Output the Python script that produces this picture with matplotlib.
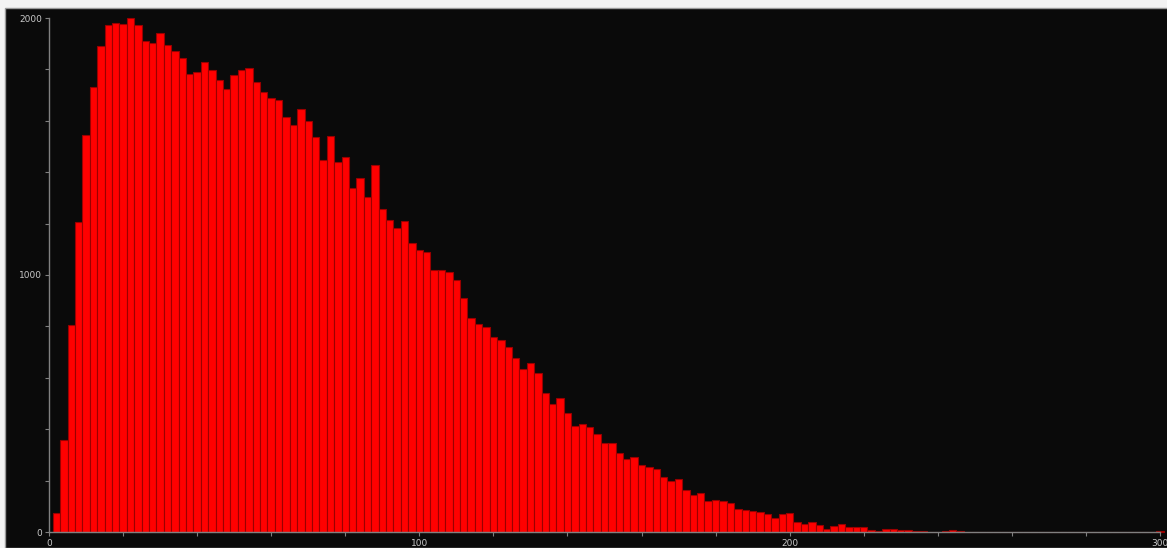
import matplotlib.pyplot as plt
import numpy as np
from matplotlib.patches import Rectangle
from matplotlib.ticker import MultipleLocator

# Histogram counts, bin width 2, centres at 2, 4, ..., 300
bin_centers = np.arange(2, 302, 2)
counts = [
    74, 358, 805, 1207, 1545, 1730, 1891, 1971, 1980, 1975,
    2000, 1971, 1911, 1904, 1940, 1895, 1870, 1844, 1783, 1790,
    1830, 1797, 1757, 1723, 1780, 1797, 1804, 1752, 1713, 1687,
    1681, 1616, 1584, 1645, 1600, 1538, 1447, 1541, 1441, 1458,
    1337, 1376, 1305, 1428, 1256, 1214, 1182, 1211, 1123, 1097,
    1091, 1019, 1019, 1013, 981, 909, 831, 808, 799, 760,
    747, 721, 676, 633, 656, 617, 542, 498, 520, 462,
    412, 420, 410, 381, 348, 345, 306, 284, 293, 261,
    254, 244, 215, 198, 205, 163, 144, 153, 122, 125,
    122, 114, 88, 86, 82, 78, 69, 56, 69, 73,
    39, 30, 40, 27, 10, 23, 30, 19, 21, 19,
    9, 5, 13, 10, 6, 8, 3, 3, 1, 0,
    4, 6, 5, 0, 0, 0, 0, 0, 0, 0,
    0, 0, 0, 0, 0, 0, 0, 0, 0, 0,
    0, 0, 0, 0, 0, 0, 0, 0, 0, 4,
]
x_major = [0, 100, 200, 300]
y_major = [0, 1000, 2000]

W, H = 1167, 548
fig = plt.figure(figsize=(W / 100, H / 100), dpi=100, facecolor="#f3f3f3")
# black panel behind the plot, leaving a thin light strip top and left
fig.patches.append(
    Rectangle((5 / W, 0), 1, 1 - 8 / H, transform=fig.transFigure,
              facecolor="#0a0a0a", edgecolor="#9a9a9a", linewidth=1, zorder=-10)
)

ax = fig.add_axes([49 / W, 16 / H, (1160 - 49) / W, (532 - 18) / H])
ax.set_zorder(5)
ax.set_facecolor("none")
ax.bar(bin_centers, counts, width=2, color="#ff0000", edgecolor="#9a0000",
       linewidth=0.8, clip_on=False)

ax.set_xlim(0, 300)
ax.set_ylim(0, 2000)
ax.set_xticks(x_major)
ax.set_yticks(y_major)
ax.xaxis.set_minor_locator(MultipleLocator(20))
ax.yaxis.set_minor_locator(MultipleLocator(200))

for s in ["top", "right"]:
    ax.spines[s].set_visible(False)
for s in ["left", "bottom"]:
    ax.spines[s].set_color("#808080")
    ax.spines[s].set_linewidth(1)

ax.tick_params(which="both", colors="#808080", length=3, width=0.8,
               labelsize=6.5, labelcolor="#c8c8c8", pad=2)

fig.savefig("out.png", dpi=100, facecolor=fig.get_facecolor())
